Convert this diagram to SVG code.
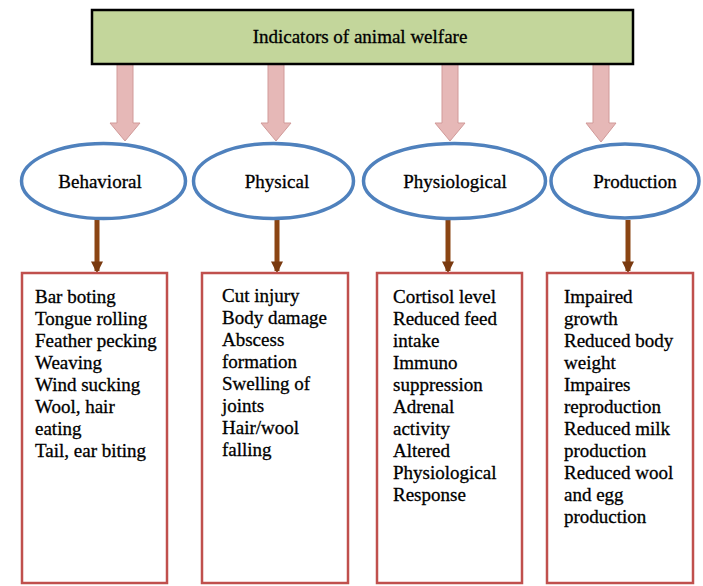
<svg xmlns="http://www.w3.org/2000/svg" width="703" height="586" viewBox="0 0 703 586">
<defs>
<style>
.t{font-family:"Liberation Serif","Times New Roman","DejaVu Serif",serif;font-size:19px;fill:#000;stroke:#000;stroke-width:0.3}
.c{text-anchor:middle}
.ell{fill:#fff;stroke:#4f81bd;stroke-width:3.5}
.box{fill:#fff;stroke:#c0504d;stroke-width:2.5}
.pink{fill:#e6b8b7;stroke:#d19a99;stroke-width:1}
.brown{stroke:#8b4513;stroke-width:5}
</style>
<marker id="bh" viewBox="0 0 10 10" refX="8" refY="5" markerWidth="2.4" markerHeight="2.4" orient="auto" markerUnits="strokeWidth">
<path d="M0,0 L10,5 L0,10 z" fill="#7a3a10"/>
</marker>
</defs>
<rect width="703" height="586" fill="#fff"/>

<g id="connectors">
<path class="pink" d="M117,64 H133 V123 H140 L125,141 L110,123 H117 Z"/>
<path class="pink" d="M268,64 H284 V123 H291 L276,141 L261,123 H268 Z"/>
<path class="pink" d="M442,64 H458 V123 H465 L450,141 L435,123 H442 Z"/>
<path class="pink" d="M593,64 H609 V123 H616 L601,142 L586,123 H593 Z"/>
<line class="brown" x1="97" y1="220" x2="97" y2="271" marker-end="url(#bh)"/>
<line class="brown" x1="277" y1="220" x2="277" y2="271" marker-end="url(#bh)"/>
<line class="brown" x1="448" y1="220" x2="448" y2="271" marker-end="url(#bh)"/>
<line class="brown" x1="628" y1="220" x2="628" y2="271" marker-end="url(#bh)"/>
</g>

<g id="root">
<rect x="92" y="10" width="541" height="54" fill="#c3d69b" stroke="#000" stroke-width="2.5"/>
<text class="t c" x="360" y="43">Indicators of animal welfare</text>
</g>

<g id="behavioral">
<ellipse class="ell" cx="103.5" cy="181" rx="82" ry="37.5"/>
<text class="t c" x="100" y="188">Behavioral</text>
</g>
<g id="physical">
<ellipse class="ell" cx="273.5" cy="181" rx="80" ry="37.5"/>
<text class="t c" x="277" y="188">Physical</text>
</g>
<g id="physiological">
<ellipse class="ell" cx="454.5" cy="181" rx="91" ry="37.5"/>
<text class="t c" x="455" y="188">Physiological</text>
</g>
<g id="production">
<ellipse class="ell" cx="625" cy="181" rx="74" ry="37"/>
<text class="t c" x="635" y="188">Production</text>
</g>

<g id="box-behavioral">
<rect class="box" x="22" y="273" width="145" height="310"/>
<text class="t" x="35" y="303">
<tspan x="35" dy="0">Bar boting</tspan>
<tspan x="35" dy="22">Tongue rolling</tspan>
<tspan x="35" dy="22">Feather pecking</tspan>
<tspan x="35" dy="22">Weaving</tspan>
<tspan x="35" dy="22">Wind sucking</tspan>
<tspan x="35" dy="22">Wool, hair</tspan>
<tspan x="35" dy="22">eating</tspan>
<tspan x="35" dy="22">Tail, ear biting</tspan>
</text>
</g>
<g id="box-physical">
<rect class="box" x="202" y="273" width="146" height="310"/>
<text class="t" x="222" y="302">
<tspan x="222" dy="0">Cut injury</tspan>
<tspan x="222" dy="22">Body damage</tspan>
<tspan x="222" dy="22">Abscess</tspan>
<tspan x="222" dy="22">formation</tspan>
<tspan x="222" dy="22">Swelling of</tspan>
<tspan x="222" dy="22">joints</tspan>
<tspan x="222" dy="22">Hair/wool</tspan>
<tspan x="222" dy="22">falling</tspan>
</text>
</g>
<g id="box-physiological">
<rect class="box" x="377" y="273" width="145" height="310"/>
<text class="t" x="393" y="303">
<tspan x="393" dy="0">Cortisol level</tspan>
<tspan x="393" dy="22">Reduced feed</tspan>
<tspan x="393" dy="22">intake</tspan>
<tspan x="393" dy="22">Immuno</tspan>
<tspan x="393" dy="22">suppression</tspan>
<tspan x="393" dy="22">Adrenal</tspan>
<tspan x="393" dy="22">activity</tspan>
<tspan x="393" dy="22">Altered</tspan>
<tspan x="393" dy="22">Physiological</tspan>
<tspan x="393" dy="22">Response</tspan>
</text>
</g>
<g id="box-production">
<rect class="box" x="547" y="273" width="146" height="310"/>
<text class="t" x="564" y="303">
<tspan x="564" dy="0">Impaired</tspan>
<tspan x="564" dy="22">growth</tspan>
<tspan x="564" dy="22">Reduced body</tspan>
<tspan x="564" dy="22">weight</tspan>
<tspan x="564" dy="22">Impaires</tspan>
<tspan x="564" dy="22">reproduction</tspan>
<tspan x="564" dy="22">Reduced milk</tspan>
<tspan x="564" dy="22">production</tspan>
<tspan x="564" dy="22">Reduced wool</tspan>
<tspan x="564" dy="22">and egg</tspan>
<tspan x="564" dy="22">production</tspan>
</text>
</g>
</svg>
